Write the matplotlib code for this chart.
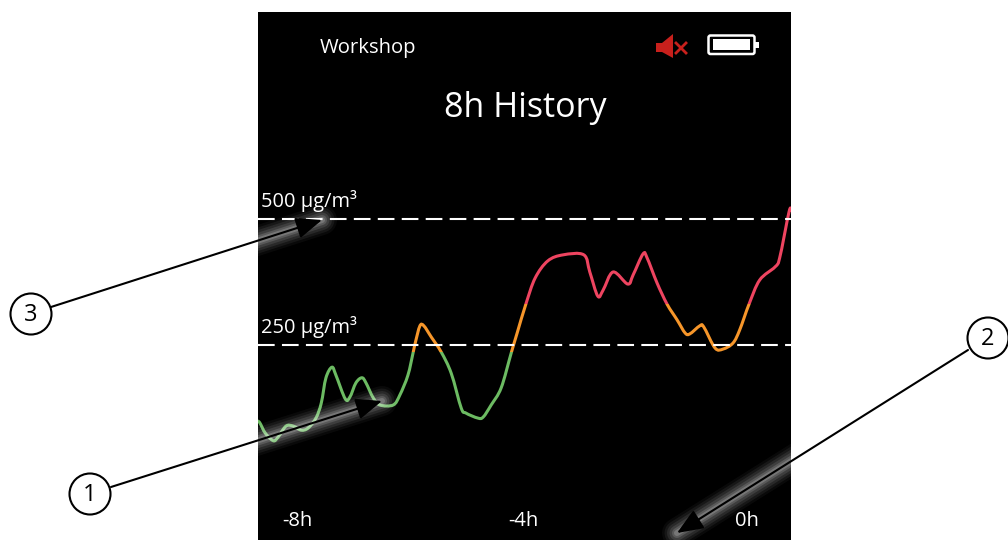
import matplotlib
matplotlib.use("Agg")
import matplotlib.pyplot as plt
from matplotlib.patches import Rectangle, Circle, Polygon, FancyBboxPatch, PathPatch
from matplotlib.path import Path
import numpy as np

plt.rcParams['font.family'] = ['Open Sans', 'DejaVu Sans']

hours = [-8.00, -7.97, -7.89, -7.77, -7.70, -7.58, -7.47, -7.35, -7.25, -7.13, -7.05, -6.98, -6.89, -6.83,
	-6.69, -6.62, -6.53, -6.44, -6.38, -6.27, -6.17, -5.97, -5.87, -5.75, -5.67, -5.64, -5.57, -5.51,
	-5.40, -5.25, -5.10, -4.95, -4.88, -4.70, -4.62, -4.50, -4.35, -4.20, -4.11, -3.98, -3.84, -3.65,
	-3.42, -3.11, -3.02, -2.90, -2.82, -2.67, -2.45, -2.37, -2.22, -2.16, -2.01, -1.86, -1.71, -1.59,
	-1.52, -1.37, -1.31, -1.14, -1.02, -0.87, -0.77, -0.63, -0.47, -0.24, -0.17, -0.03, 0.00]
values = [99, 95, 75, 60, 67, 89, 89, 81, 85, 105, 135, 185, 206, 190,
	143, 147, 175, 185, 175, 145, 131, 131, 151, 190, 236, 254, 288, 288,
	266, 236, 194, 125, 115, 105, 107, 131, 165, 234, 274, 331, 383, 417,
	429, 429, 395, 347, 359, 395, 371, 389, 431, 423, 373, 331, 300, 274,
	272, 288, 286, 244, 242, 254, 280, 331, 379, 405, 423, 514, 518]

limit_labels = ["250 µg/m³", "500 µg/m³"]
limits = [250, 500]
band_edges = [-200, 236, 331, 1000]
band_colors = ["#6cbb62", "#f6962a", "#ee4460"]
tick_pos = [-7.41, -4.02, -0.66]
tick_labels = ["-8h", "-4h", "0h"]
callouts = ["1", "2", "3"]


def smooth_path(x, y):
	# catmull-rom through the points, written as bezier segments
	p = np.column_stack([x, y])
	verts = [p[0]]
	codes = [Path.MOVETO]
	for i in range(len(p) - 1):
		a = p[max(i - 1, 0)]
		d = p[min(i + 2, len(p) - 1)]
		verts += [p[i] + (p[i + 1] - a) / 6, p[i + 1] - (d - p[i]) / 6, p[i + 1]]
		codes += [Path.CURVE4] * 3
	return Path(verts, codes)


fig = plt.figure(figsize=(10.08, 5.4), dpi=100, facecolor="white")
ax = fig.add_axes([258 / 1008, 0, 533 / 1008, 528 / 540], facecolor="black")
ax.set_xlim(-8, 0)
ax.set_ylim(-137, 911)
ax.set_xticks([])
ax.set_yticks([])
for s in ax.spines.values():
	s.set_visible(False)

# same curve once per colour band, clipped to its band
curve = smooth_path(hours, values)
for i in range(3):
	patch = PathPatch(curve, fc="none", ec=band_colors[i], lw=2.2, capstyle="round", joinstyle="round", zorder=2)
	ax.add_patch(patch)
	band = Rectangle((-8, band_edges[i]), 8, band_edges[i + 1] - band_edges[i], transform=ax.transData)
	patch.set_clip_path(band)

for i in range(2):
	ax.axhline(limits[i], color="white", lw=1.5, dashes=(8, 3.5), zorder=3)
	ax.text(-7.95, limits[i] + 36, limit_labels[i], color="white", fontsize=14.4, va="center", ha="left")

for i in range(3):
	ax.text(tick_pos[i], -100, tick_labels[i], color="white", fontsize=14.5, ha="center", va="center")

# overlay in pixel coords for header, icons and callouts
ov = fig.add_axes([0, 0, 1, 1], facecolor="none")
ov.set_xlim(0, 1008)
ov.set_ylim(540, 0)
ov.axis("off")

ov.text(368, 48, "Workshop", color="white", fontsize=14.6, ha="center", va="center")
ov.text(525, 108, "8h History", color="white", fontsize=24.5, ha="center", va="center")

red = "#c8201c"
ov.add_patch(Polygon([(656, 43), (662, 43), (673, 34), (673, 58), (662, 52), (656, 52)], color=red, lw=0))
ov.plot([676, 686], [43, 53], color=red, lw=2)
ov.plot([676, 686], [53, 43], color=red, lw=2)
ov.add_patch(FancyBboxPatch((708.5, 35.5), 46, 18.5, boxstyle="round,pad=0,rounding_size=2", fc="black", ec="white", lw=1.8))
ov.add_patch(Rectangle((713, 39), 37, 11, color="white", lw=0))
ov.add_patch(Rectangle((755, 42), 4, 6, color="white", lw=0))

panel = Rectangle((258, 12), 533, 528, transform=ov.transData)
circles = [(90, 494), (988, 338), (31, 314)]
starts = [(111, 487), (968, 350), (51, 307)]
tips = [(382, 401), (677, 533), (322, 220)]

for i in range(3):
	x0, y0 = starts[i]
	x1, y1 = tips[i]
	# soft grey glow behind the arrow, only visible on the black panel
	for w, a in [(30, 0.04), (25, 0.06), (20, 0.08), (15, 0.10), (10, 0.14), (6, 0.18)]:
		g, = ov.plot([x0, x1], [y0, y1], color="white", alpha=a, lw=w * 0.72,
			solid_capstyle="round", zorder=4)
		g.set_clip_path(panel)
	ov.annotate("", xy=(x1, y1), xytext=(x0, y0), zorder=5,
		arrowprops=dict(arrowstyle="-|>,head_length=1.6,head_width=0.65", color="black", lw=1.5,
			shrinkA=0, shrinkB=0))
	cx, cy = circles[i]
	ov.add_patch(Circle((cx, cy), 20.5, fc="white", ec="black", lw=1.5, zorder=5))
	ov.text(cx, cy + 1, callouts[i], color="black", fontsize=17, ha="center", va="center", zorder=6)

fig.savefig("out.png", dpi=100)
